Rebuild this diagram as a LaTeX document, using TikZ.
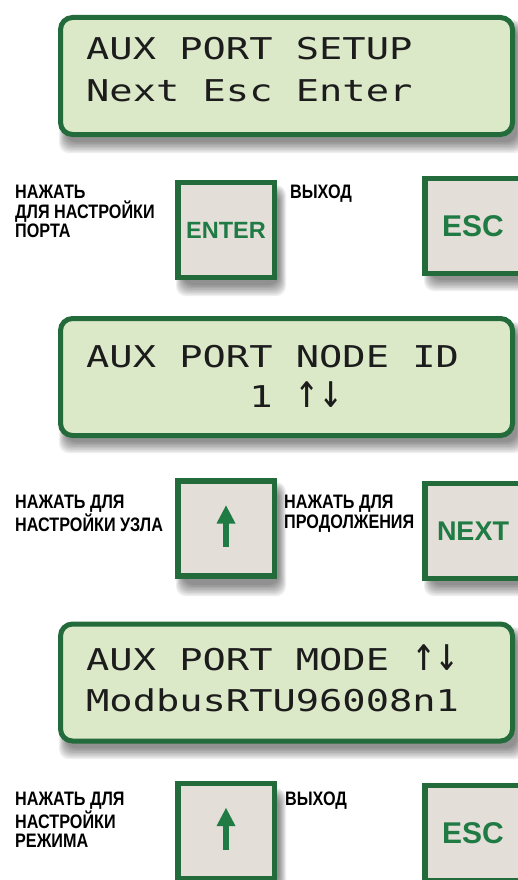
\documentclass[tikz,border=0pt]{standalone}
\usepackage{fontspec}
\usepackage{graphicx}
\setmainfont{Liberation Sans}
\newfontfamily\lblfont[FakeStretch=0.83]{Liberation Sans}
\newfontfamily\lcdfont{DejaVu Sans Mono}
\newfontfamily\btnfont{Liberation Sans}
\definecolor{bordergreen}{HTML}{236B3B}
\definecolor{lcdfill}{HTML}{DCE9C9}
\definecolor{btnfill}{HTML}{E3DED7}
\definecolor{btntext}{HTML}{1F7A43}
\definecolor{lcdtext}{HTML}{1C1C1C}
\newcommand\softshadow[4]{%
  \foreach \k in {0,...,7}{%
    \fill[black,opacity=0.065,rounded corners=10pt]
      (#1+8-\k*1.0,#2+12-\k*1.0) rectangle (#3+2+\k*1.0,#4+5+\k*1.6);
  }}
\newcommand\btnarrow[1]{%
  \begin{scope}[shift={(#1.center)}]
    \fill[btntext] (-3.4,-6) rectangle (3.4,18.5);
    \fill[btntext] (0,-23) -- (9.5,-5) -- (-9.5,-5) -- cycle;
  \end{scope}}
\newcommand\lcdarrows{\scalebox{1}[1.6]{↑↓}}
\tikzset{
  lcdbox/.style={draw=bordergreen,line width=5pt,fill=lcdfill,rounded corners=12pt,
    minimum width=452pt,minimum height=117pt,inner sep=0pt,outer sep=0pt},
  keybox/.style={draw=bordergreen,line width=5.5pt,fill=btnfill,
    minimum width=96.5pt,minimum height=95pt,inner sep=0pt,outer sep=0pt,
    text=btntext},
  lcdtxt/.style={anchor=base west,inner sep=0pt,text=lcdtext,
    font=\lcdfont\fontsize{30}{30}\selectfont},
  lbl/.style={anchor=north west,align=left,inner sep=0pt,text=black,
    font=\lblfont\bfseries\fontsize{19.5}{19.5}\selectfont},
}
\begin{document}
\begin{tikzpicture}[x=1pt,y=-1pt]
\clip (0,0) rectangle (518,880);
\fill[white] (0,0) rectangle (518,880);

% ---- LCD 1
\softshadow{58}{15}{515}{137}
\node[lcdbox] (lcd1) at (286.5,76) {};
\node[lcdtxt] (t1a) at (86,60) {\scalebox{1.29}[1]{AUX~PORT~SETUP}};
\node[lcdtxt] (t1b) at (86,102) {\scalebox{1.29}[1]{Next~Esc~Enter}};

% ---- row 1 keys
\softshadow{175}{180}{277}{280}
\node[keybox,font=\btnfont\bfseries\fontsize{23.5}{23.5}\selectfont] (enter) at (226,230) {ENTER};
\softshadow{423}{177}{523}{275}
\node[keybox,font=\btnfont\bfseries\fontsize{30}{30}\selectfont] (esc1) at (473,226) {ESC};
\node[lbl] (l1) at (15,185) {НАЖАТЬ\\ДЛЯ НАСТРОЙКИ\\ПОРТА};
\node[lbl] (r1) at (290,185) {ВЫХОД};

% ---- LCD 2
\softshadow{58}{317}{515}{437}
\node[lcdbox] (lcd2) at (286.5,377) {};
\node[lcdtxt] (t2a) at (86,367) {\scalebox{1.29}[1]{AUX~PORT~NODE~ID}};
\node[lcdtxt] (t2b) at (86,407) {\scalebox{1.29}[1]{~~~~~~~1~\lcdarrows}};

% ---- row 2 keys
\softshadow{175}{477}{277}{580}
\node[keybox] (up1) at (226,528.5) {};
\btnarrow{up1}
\softshadow{423}{482}{523}{580}
\node[keybox,font=\btnfont\bfseries\fontsize{27}{27}\selectfont] (next) at (473,531) {NEXT};
\node[lbl] (l2) at (15,495) {НАЖАТЬ ДЛЯ\\НАСТРОЙКИ УЗЛА};
\node[lbl] (r2) at (284,495) {НАЖАТЬ ДЛЯ\\ПРОДОЛЖЕНИЯ};

% ---- LCD 3
\softshadow{58}{622}{515}{743}
\node[lcdbox] (lcd3) at (286.5,682.5) {};
\node[lcdtxt] (t3a) at (86,670) {\scalebox{1.29}[1]{AUX~PORT~MODE~\lcdarrows}};
\node[lcdtxt] (t3b) at (86,711) {\scalebox{1.29}[1]{ModbusRTU96008n1}};

% ---- row 3 keys
\softshadow{175}{783}{277}{880}
\node[keybox] (up2) at (226,831) {};
\btnarrow{up2}
\softshadow{423}{783}{523}{883}
\node[keybox,font=\btnfont\bfseries\fontsize{30}{30}\selectfont] (esc2) at (473,833) {ESC};
\node[lbl] (l3) at (15,792) {НАЖАТЬ ДЛЯ\\НАСТРОЙКИ\\РЕЖИМА};
\node[lbl] (r3) at (285,792) {ВЫХОД};
\end{tikzpicture}
\end{document}
